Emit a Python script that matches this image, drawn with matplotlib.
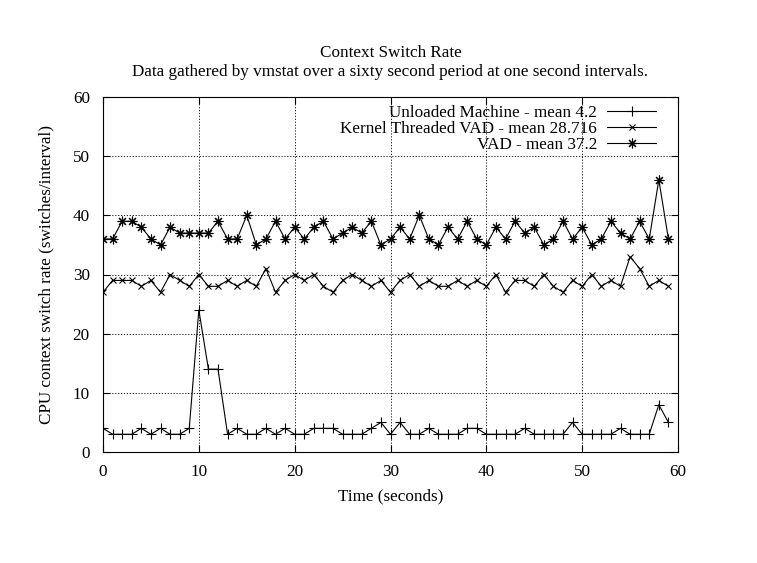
import matplotlib
matplotlib.use('Agg')
import matplotlib.pyplot as plt
import numpy as np

plt.rcParams['font.family'] = ['Liberation Serif', 'DejaVu Serif']

t = np.arange(60)

unloaded = [4, 3, 3, 3, 4, 3, 4, 3, 3, 4,
            24, 14, 14, 3, 4, 3, 3, 4, 3, 4,
            3, 3, 4, 4, 4, 3, 3, 3, 4, 5,
            3, 5, 3, 3, 4, 3, 3, 3, 4, 4,
            3, 3, 3, 3, 4, 3, 3, 3, 3, 5,
            3, 3, 3, 3, 4, 3, 3, 3, 8, 5]

ktvad = [27, 29, 29, 29, 28, 29, 27, 30, 29, 28,
         30, 28, 28, 29, 28, 29, 28, 31, 27, 29,
         30, 29, 30, 28, 27, 29, 30, 29, 28, 29,
         27, 29, 30, 28, 29, 28, 28, 29, 28, 29,
         28, 30, 27, 29, 29, 28, 30, 28, 27, 29,
         28, 30, 28, 29, 28, 33, 31, 28, 29, 28]

vad = [36, 36, 39, 39, 38, 36, 35, 38, 37, 37,
       37, 37, 39, 36, 36, 40, 35, 36, 39, 36,
       38, 36, 38, 39, 36, 37, 38, 37, 39, 35,
       36, 38, 36, 40, 36, 35, 38, 36, 39, 36,
       35, 38, 36, 39, 37, 38, 35, 36, 39, 36,
       38, 35, 36, 39, 37, 36, 39, 36, 46, 36]

labels = ['Unloaded Machine - mean 4.2',
          'Kernel Threaded VAD - mean 28.716',
          'VAD - mean 37.2']

fig = plt.figure(figsize=(7.57, 5.63), dpi=100)
ax = fig.add_axes([103/757, 111/563, 575/757, 355/563])

ax.plot(t, unloaded, color='black', lw=0.8, marker='+', ms=7, mew=0.8, label=labels[0])
ax.plot(t, ktvad, color='black', lw=0.8, marker='x', ms=5, mew=0.8, label=labels[1])
ax.plot(t, vad, color='black', lw=0.8, marker=(8, 2, 0), ms=7, mew=0.8, label=labels[2])

ax.set_xlim(0, 60)
ax.set_ylim(0, 60)
ax.set_xticks(range(0, 61, 10))
ax.set_yticks(range(0, 61, 10))
ax.tick_params(direction='in', top=True, right=True, labelsize=12.3, length=5)
ax.tick_params(axis='x', pad=9)
ax.tick_params(axis='y', pad=9.5)
ax.grid(True, color='black', linestyle=(0, (1.5, 2)), lw=0.6)

ax.set_xlabel('Time (seconds)', fontsize=12.3, labelpad=6)
ax.set_ylabel('CPU context switch rate (switches/interval)', fontsize=12.3, labelpad=13)
ax.set_title('Context Switch Rate\nData gathered by vmstat over a sixty second period at one second intervals.',
             fontsize=12.3, pad=15, linespacing=1.25)

leg = ax.legend(loc='upper right', bbox_to_anchor=(0.968, 0.987), frameon=False,
                markerfirst=False, fontsize=12.3, handlelength=2.85, labelspacing=0.0,
                handletextpad=0.6, borderaxespad=0.0, borderpad=0.2)

fig.savefig('out.png', dpi=100)
